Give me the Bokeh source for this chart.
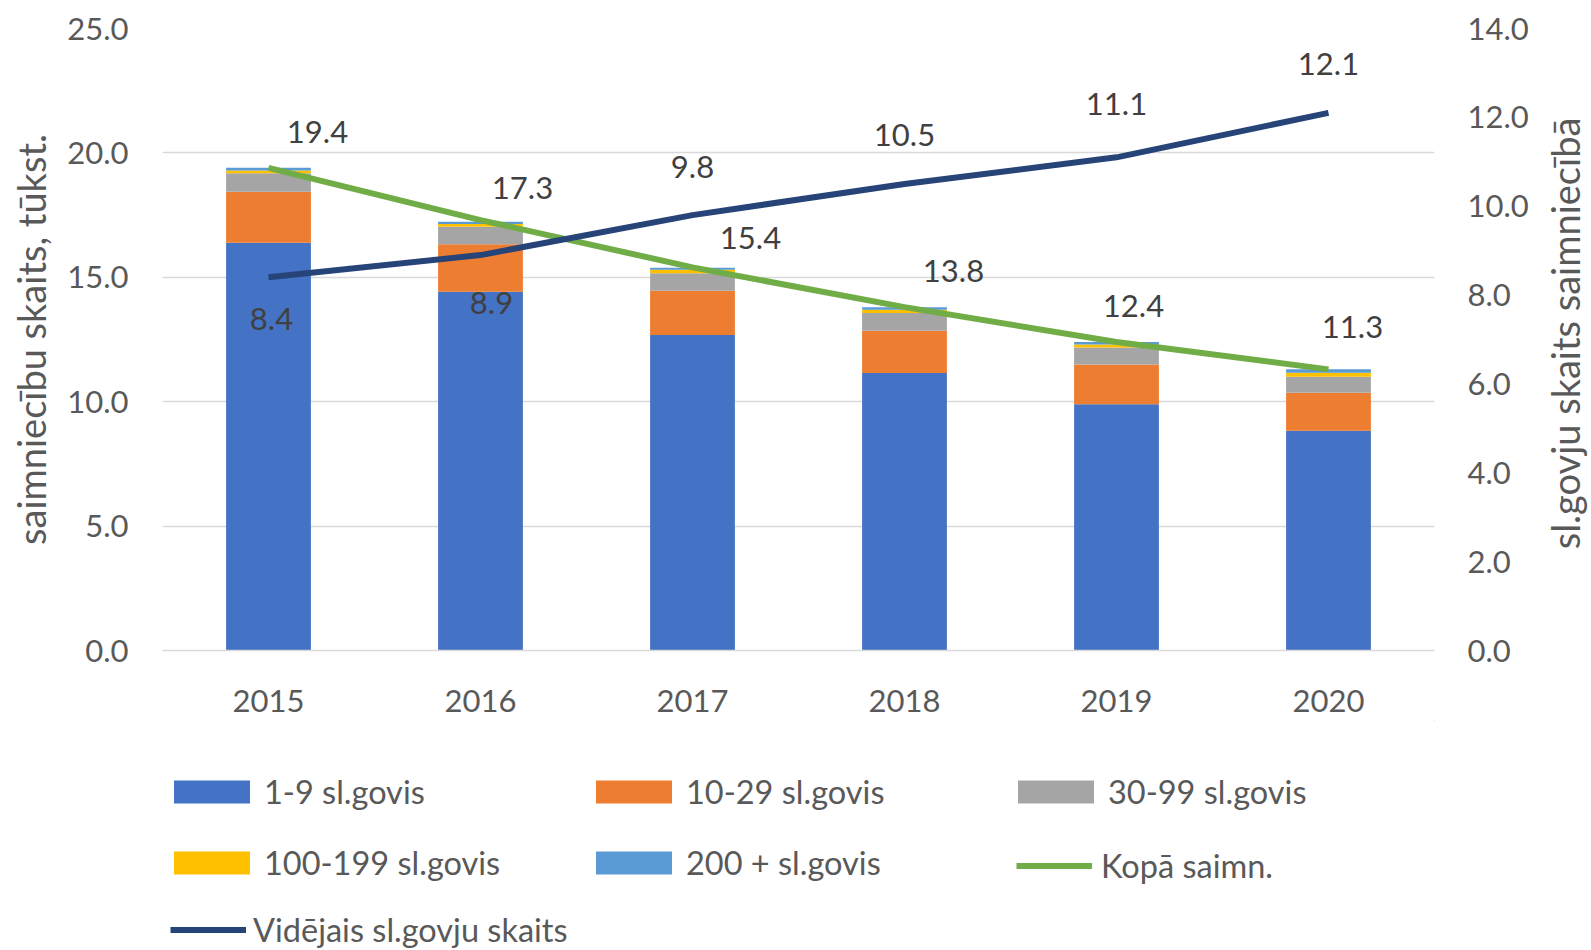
import math
from bokeh.plotting import figure
from bokeh.layouts import column, row
from bokeh.models import (ColumnDataSource, LinearAxis, Range1d, Legend, LegendItem,
                          FactorRange, FixedTicker, PrintfTickFormatter)
from bokeh.embed import file_html
from bokeh.resources import INLINE
from bokeh.core.properties import value

# ---------------- data ----------------
years = ["2015", "2016", "2017", "2018", "2019", "2020"]
g1_9 = [16.39, 14.42, 12.68, 11.15, 9.90, 8.83]
g10_29 = [2.05, 1.91, 1.78, 1.70, 1.60, 1.53]
g30_99 = [0.74, 0.70, 0.70, 0.72, 0.68, 0.64]
g100_199 = [0.11, 0.11, 0.14, 0.13, 0.12, 0.16]
g200 = [0.11, 0.09, 0.08, 0.10, 0.10, 0.14]
total = [19.4, 17.3, 15.4, 13.8, 12.4, 11.3]
avg = [8.4, 8.9, 9.8, 10.5, 11.1, 12.1]

series_names = ["1-9 sl.govis", "10-29 sl.govis", "30-99 sl.govis",
                "100-199 sl.govis", "200 + sl.govis"]
line_names = ["Kopā saimn.", "Vidējais sl.govju skaits"]
left_title = "saimniecību skaits, tūkst."
right_title = "sl.govju skaits saimniecībā"
left_ticks = [0, 5, 10, 15, 20, 25]
right_ticks = [0, 2, 4, 6, 8, 10, 12, 14]

# label offsets (pixels, styling)
tot_dx = [49, 42, 58, 49, 17, 24]
tot_dy = [-36, -32, -29, -36, -36, -42]
avg_dx = [3, 11, 0, 0, 0, 0]
avg_dy = [42, 48, -48, -49, -53, -49]

colors = ["#4472C4", "#ED7D31", "#A5A5A5", "#FFC000", "#5B9BD5"]
GREEN = "#70AD47"
NAVY = "#264478"
FONT = "Lato"
TXT = "#595959"
FS = "31px"
FS_TITLE = "38px"
FS_LEG = "32.5px"

keys = ["g1_9", "g10_29", "g30_99", "g100_199", "g200"]
source = ColumnDataSource(dict(
    year=years, g1_9=g1_9, g10_29=g10_29, g30_99=g30_99, g100_199=g100_199, g200=g200,
    total=total, avg=avg,
    total_lbl=[f"{v:.1f}" for v in total], avg_lbl=[f"{v:.1f}" for v in avg],
    tdx=tot_dx, tdy=tot_dy, adx=avg_dx, ady=avg_dy,
))

W = 1591
W_TITLE = 60
W_MAIN = W - W_TITLE
H_MAIN = 720
H_LEG = 230
FRAME_L = 162
FRAME_R = 1434

p = figure(x_range=FactorRange(factors=years), y_range=Range1d(0, 25),
           width=W_MAIN, height=H_MAIN, output_backend="svg", toolbar_location=None,
           min_border_left=FRAME_L, min_border_right=W_MAIN - FRAME_R, min_border_top=28,
           min_border_bottom=70)
p.outline_line_color = None
p.extra_y_ranges = {"right": Range1d(0, 14)}

bars = p.vbar_stack(keys, x="year", width=0.4, color=colors, source=source, line_width=0)

l_tot = p.line(x="year", y="total", source=source, line_color=GREEN, line_width=6)
l_avg = p.line(x="year", y="avg", source=source, line_color=NAVY, line_width=6,
               y_range_name="right")

p.text(x="year", y="total", text="total_lbl", source=source, x_offset="tdx", y_offset="tdy",
       text_align="center", text_baseline="middle", text_font=value(FONT),
       text_font_size=FS, text_color="#404040")
p.text(x="year", y="avg", text="avg_lbl", source=source, x_offset="adx", y_offset="ady",
       text_align="center", text_baseline="middle", text_font=value(FONT),
       text_font_size=FS, text_color="#404040", y_range_name="right")

# grid
p.xgrid.grid_line_color = None
p.ygrid.grid_line_color = "#D9D9D9"
p.ygrid.grid_line_width = 1.5
p.ygrid.ticker = FixedTicker(ticks=left_ticks)

# left axis
ya = p.yaxis[0]
ya.ticker = FixedTicker(ticks=left_ticks)
ya.formatter = PrintfTickFormatter(format="%.1f")
ya.axis_line_color = None
ya.major_tick_line_color = None
ya.minor_tick_line_color = None
ya.major_label_text_font = FONT
ya.major_label_text_font_size = FS
ya.major_label_text_color = TXT
ya.major_label_standoff = 28
ya.axis_label = left_title
ya.axis_label_text_font = FONT
ya.axis_label_text_font_size = FS_TITLE
ya.axis_label_text_font_style = "normal"
ya.axis_label_text_color = TXT
ya.axis_label_standoff = 10

# right axis (ticks)
ra = LinearAxis(y_range_name="right", ticker=FixedTicker(ticks=right_ticks),
                formatter=PrintfTickFormatter(format="%.1f"))
ra.axis_line_color = None
ra.major_tick_line_color = None
ra.minor_tick_line_color = None
ra.major_label_text_font = FONT
ra.major_label_text_font_size = FS
ra.major_label_text_color = TXT
ra.major_label_standoff = 27
p.add_layout(ra, "right")

# x axis
xa = p.xaxis[0]
xa.axis_line_color = "#D9D9D9"
xa.axis_line_width = 1.5
xa.major_tick_line_color = None
xa.minor_tick_line_color = None
xa.major_label_text_font = FONT
xa.major_label_text_font_size = FS
xa.major_label_text_color = TXT
xa.major_label_standoff = 33

# ---------------- right-axis title strip (reads bottom to top) ----------------
t = figure(width=W_TITLE, height=H_MAIN, x_range=Range1d(0, 1), y_range=Range1d(0, 1),
           x_axis_type=None, y_axis_type=None, output_backend="svg", toolbar_location=None,
           min_border_left=0, min_border_right=0, min_border_top=28, min_border_bottom=70)
t.grid.visible = False
t.outline_line_color = None
t.text(x=[0.5], y=[0.5], text=[right_title], angle=math.pi / 2, x_offset=3, y_offset=-6,
       text_align="center", text_baseline="middle", text_font=value(FONT),
       text_font_size=FS_TITLE, text_color=TXT)

# ---------------- legend figure ----------------
q = figure(width=W, height=H_LEG, x_range=Range1d(0, 1), y_range=Range1d(0, 1),
           x_axis_type=None, y_axis_type=None,
           output_backend="svg", toolbar_location=None,
           min_border_left=FRAME_L, min_border_right=W - FRAME_R,
           min_border_top=0, min_border_bottom=0)
q.grid.visible = False
q.outline_line_color = None

dummy = []
for c in colors:
    dummy.append(q.vbar(x=[5], top=[5], bottom=[4], width=0.1, color=c, line_width=0))
dl1 = q.line(x=[5, 6], y=[5, 6], line_color=GREEN, line_width=6)
dl2 = q.line(x=[5, 6], y=[5, 6], line_color=NAVY, line_width=6)

common = dict(label_text_font=FONT, label_text_font_size=FS_LEG, label_text_color=TXT,
              border_line_color=None, background_fill_alpha=0, padding=2, margin=0)

legA = Legend(items=[LegendItem(label=n, renderers=[r]) for n, r in zip(series_names, dummy)],
              orientation="horizontal", ncols=3, glyph_width=95, glyph_height=29,
              label_standoff=5, spacing=32, label_width=290, location=(2, 68), **common)
legB = Legend(items=[LegendItem(label=line_names[0], renderers=[dl1])],
              glyph_width=76, glyph_height=23, label_standoff=9, location=(854, 65), **common)
legC = Legend(items=[LegendItem(label=line_names[1], renderers=[dl2])],
              glyph_width=76, glyph_height=23, label_standoff=7, location=(8, 1), **common)
q.add_layout(legA)
q.add_layout(legB)
q.add_layout(legC)

layout = column(row(p, t, spacing=0), q, spacing=0)
open("out.html", "w").write(file_html(layout, INLINE))
